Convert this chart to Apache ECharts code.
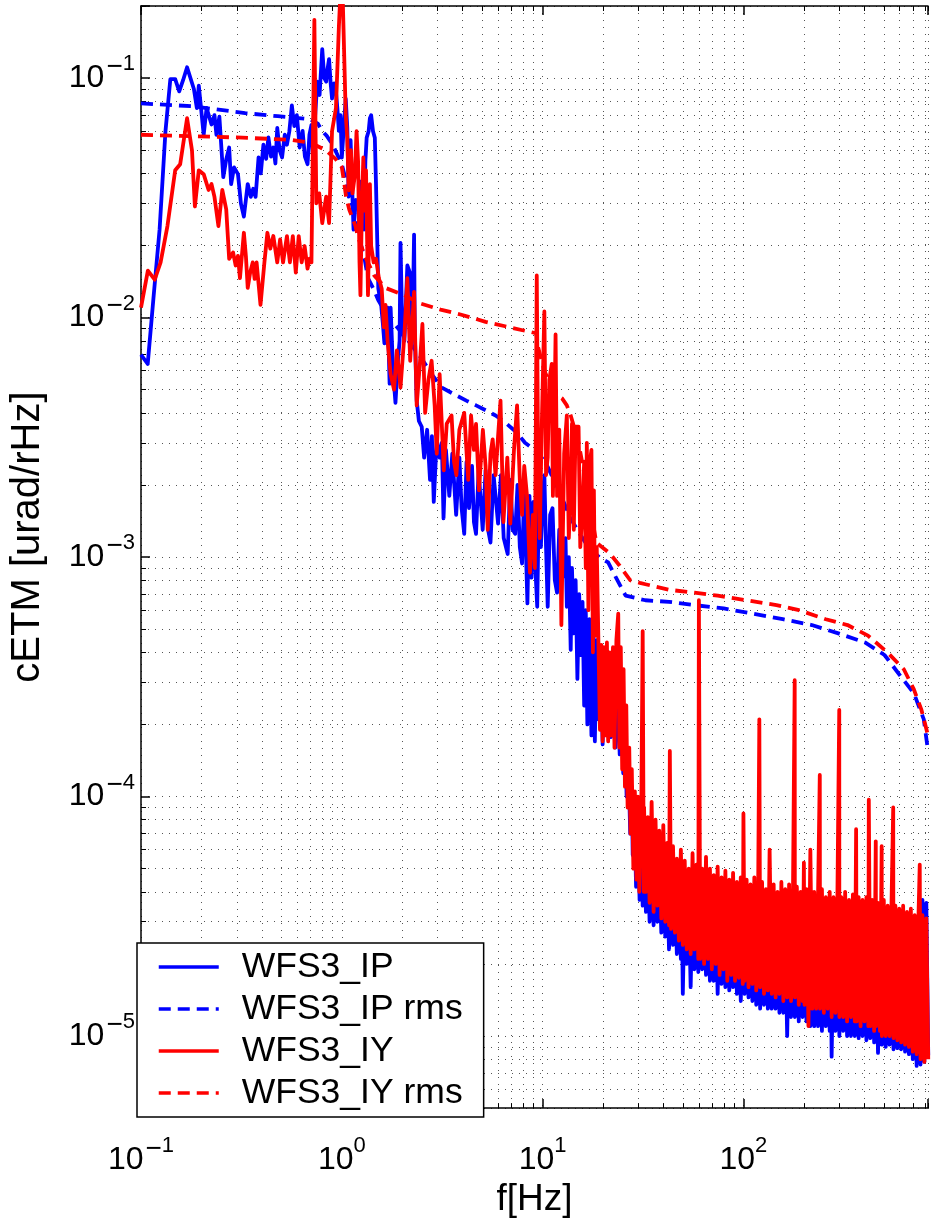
<!DOCTYPE html>
<html>
<head>
<meta charset="utf-8">
<script src="https://cdn.jsdelivr.net/npm/echarts@6/dist/echarts.min.js"></script>
<style>
html,body{margin:0;padding:0;background:#fff;}
#chart{width:931px;height:1223px;}
</style>
</head>
<body>
<div id="chart"></div>
<script>
// ---------------- data (frequency [Hz], amplitude [urad/rHz]) ----------------
const seriesNames = ['WFS3_IP', 'WFS3_IP rms', 'WFS3_IY', 'WFS3_IY rms'];
const xTickLabels = [0.1, 1, 10, 100];
const yTickLabels = [1e-5, 1e-4, 1e-3, 1e-2, 1e-1];
const xRange = [0.1, 830];
const yRange = [5e-6, 0.2];

// WFS3_IP, 0.1 - 32 Hz
const ipLow = [
[0.1,0.0070],[0.108,0.0064],[0.1157,0.0124],[0.1238,0.0234],[0.1324,0.060],[0.140,0.099],[0.148,0.099],[0.155,0.088],[0.162,0.098],[0.1696,0.111],
[0.1834,0.090],[0.1897,0.075],[0.194,0.093],[0.2052,0.058],[0.2122,0.075],[0.2245,0.064],[0.2322,0.070],[0.2375,0.058],[0.2456,0.069],[0.2569,0.0386],
[0.266,0.046],[0.2748,0.0513],[0.2811,0.0361],[0.2907,0.0424],[0.304,0.0397],[0.3145,0.0299],[0.3253,0.0264],[0.340,0.0361],[0.352,0.0319],[0.362,0.0345],
[0.372,0.0319],[0.385,0.0466],[0.395,0.040],[0.407,0.0527],[0.42,0.046],[0.431,0.0565],[0.444,0.047],[0.456,0.0513],[0.467,0.044],[0.477,0.0619],
[0.49,0.050],[0.504,0.0466],[0.52,0.058],[0.533,0.0527],[0.548,0.060],[0.564,0.0769],[0.58,0.063],[0.597,0.070],[0.617,0.0513],[0.638,0.0602],
[0.655,0.047],[0.675,0.0437],[0.690,0.058],[0.706,0.0637],[0.72,0.045],[0.737,0.070],[0.755,0.0966],[0.775,0.085],[0.799,0.132],[0.818,0.100],
[0.836,0.0966],[0.850,0.110],[0.864,0.120],[0.880,0.095],[0.894,0.0822],[0.915,0.095],[0.935,0.0878],[0.950,0.075],[0.967,0.0602],[0.985,0.070],
[1.0,0.0466],[1.02,0.060],[1.046,0.082],[1.065,0.062],[1.082,0.032],[1.106,0.055],[1.144,0.0233],[1.175,0.031],[1.205,0.029],[1.25,0.037],
[1.29,0.0233],[1.31,0.045],[1.33,0.0564],[1.36,0.060],[1.38,0.068],[1.40,0.070],[1.43,0.060],[1.46,0.0564],[1.48,0.036],[1.52,0.0132],
[1.57,0.0113],[1.60,0.0095],[1.63,0.0078],[1.66,0.0105],[1.69,0.011],[1.73,0.0053],[1.75,0.011],[1.80,0.006],[1.85,0.0044],[1.90,0.0065],
[1.94,0.008],[1.96,0.0205],[2.0,0.009],[2.05,0.008],[2.12,0.0165],[2.19,0.0153],[2.25,0.009],[2.29,0.0222],[2.31,0.0085],[2.36,0.0045],
[2.42,0.0037],[2.5,0.0035],[2.57,0.0026],[2.66,0.0034],[2.75,0.0021],[2.81,0.0032],[2.87,0.0017],[2.97,0.0031],[3.07,0.0026],[3.15,0.0030],
[3.21,0.00145],[3.3,0.0028],[3.43,0.0018],[3.55,0.0027],[3.71,0.0015],[3.85,0.0026],[3.95,0.0016],[4.07,0.00125],[4.18,0.0025],[4.30,0.0016],
[4.45,0.0024],[4.55,0.0014],[4.66,0.00125],[4.8,0.0023],[5.03,0.0013],[5.2,0.0023],[5.35,0.0013],[5.5,0.00115],[5.7,0.0022],[6.0,0.00138],
[6.2,0.0022],[6.4,0.0012],[6.7,0.00103],[6.9,0.0021],[7.1,0.0013],[7.3,0.00125],[7.5,0.002],[7.7,0.0011],[7.9,0.00094],[8.1,0.0019],
[8.4,0.00064],[8.6,0.0018],[8.8,0.00082],[9.0,0.0017],[9.2,0.0009],[9.4,0.00062],[9.6,0.0019],[9.8,0.0011],[10.0,0.0017],[10.2,0.0022],
[10.4,0.0011],[10.6,0.00062],[10.9,0.0015],[11.2,0.0016],[11.5,0.0008],[11.8,0.00071],[12.1,0.0013],[12.4,0.0008],[12.8,0.00086],[13.0,0.0012],
[13.2,0.00062],[13.5,0.001],[13.8,0.00041],[14.0,0.0009],[14.3,0.00048],[14.6,0.0008],[14.9,0.00031],[15.2,0.0007],[15.5,0.00039],[15.8,0.00065],
[16.1,0.00024],[16.4,0.0006],[16.7,0.0002],[17.1,0.00055],[17.5,0.00018],[17.9,0.0005],[18.2,0.00017],[18.6,0.00045],[19.0,0.00021],[19.4,0.0004],
[19.9,0.000165],[20.4,0.00038],[20.9,0.00018],[21.4,0.00035],[21.9,0.000177],[22.4,0.00032],[23.0,0.00016],[23.6,0.0003],[24.2,0.00015],[24.8,0.00025],
[25.2,0.000125],[25.7,0.0002],[26.2,0.0001],[26.7,0.00015],[27.3,0.00007],[27.8,0.00011],[28.1,0.000057],[28.6,0.00009],[29.2,0.000042],[29.8,0.00007],
[30.4,0.000037],[31.0,0.00006],[31.5,0.000035]
];

// WFS3_IP, 32 - 830 Hz
const ipBand = [
[32,6.0e-5],[32.7,3.3e-5],[33.4,5.5e-5],[34.1,3.0e-5],[34.9,5.8e-5],[35.7,2.9e-5],[36.5,5.2e-5],[37.3,3.0e-5],[38.1,4.8e-5],[39,2.7e-5],
[39.9,5.0e-5],[40.8,2.6e-5],[41.7,4.5e-5],[42.6,2.3e-5],[43.6,4.4e-5],[44.6,2.4e-5],[45.6,4.2e-5],[46.6,2.2e-5],[47.7,4.0e-5],[48.8,2.1e-5],
[49.3,3.6e-5],[49.9,1.5e-5],[51,3.8e-5],[52.2,2.0e-5],[53.4,3.6e-5],[54.6,1.6e-5],[55.8,3.8e-5],[57,1.9e-5],[58.3,3.5e-5],[59.6,1.85e-5],
[60.9,3.6e-5],[62.3,1.9e-5],[63.7,3.4e-5],[65.1,1.8e-5],[66.6,3.5e-5],[68.1,1.7e-5],[69.6,3.3e-5],[71.2,1.7e-5],[72.8,3.4e-5],[74.4,1.5e-5],
[76.1,3.2e-5],[77.8,1.65e-5],[79.5,3.3e-5],[81.3,1.6e-5],[83.1,3.1e-5],[85,1.55e-5],[86.9,3.2e-5],[88.8,1.6e-5],[90.8,3.0e-5],[92.8,1.5e-5],
[94.9,3.1e-5],[97,1.4e-5],[99.2,3.0e-5],[101.4,1.5e-5],[103.7,3.0e-5],[106,1.45e-5],[108.4,2.9e-5],[110.8,1.4e-5],[113.3,3.0e-5],[115.8,1.35e-5],
[118.4,2.9e-5],[121.1,1.3e-5],[123.8,2.9e-5],[126.6,1.35e-5],[129.4,2.8e-5],[132.3,1.3e-5],[135.3,2.8e-5],[138.3,1.3e-5],[141.4,2.8e-5],[144.6,1.3e-5],
[147.8,2.8e-5],[151.1,1.25e-5],[154.5,2.7e-5],[158,1.25e-5],[161.5,2.7e-5],[165.1,1.0e-5],[168.8,2.7e-5],[172.6,1.2e-5],[176.5,2.6e-5],[180.4,1.2e-5],
[184.5,2.7e-5],[188.6,1.15e-5],[192.8,2.6e-5],[197.1,1.2e-5],[201.5,2.6e-5],[206,1.15e-5],[210.7,2.5e-5],[215.4,1.1e-5],[220.2,2.6e-5],[225.1,1.1e-5],
[230.2,2.5e-5],[235.3,1.1e-5],[240.6,2.5e-5],[246,1.05e-5],[251.5,2.5e-5],[257.2,1.1e-5],[263,2.4e-5],[268.9,1.05e-5],[271.9,2.4e-5],[274.9,8.2e-6],
[281,2.4e-5],[287.3,1.05e-5],[293.8,2.4e-5],[300.4,1.0e-5],[307.1,2.4e-5],[314,1.05e-5],[321,2.3e-5],[328.2,1.0e-5],[335.6,2.4e-5],[343.1,1.0e-5],
[350.8,2.3e-5],[358.6,1.0e-5],[366.6,2.3e-5],[374.8,9.8e-6],[383.2,2.3e-5],[391.8,1.0e-5],[400.6,2.3e-5],[409.6,9.6e-6],[418.8,2.2e-5],[428.2,9.8e-6],
[437.8,2.3e-5],[447.6,9.4e-6],[457.6,2.2e-5],[467.9,8.5e-6],[478.4,2.2e-5],[489.1,9.2e-6],[500,2.2e-5],[511.2,9.0e-6],[522.7,2.1e-5],[534.4,9.2e-6],
[546.4,2.1e-5],[558.6,8.8e-6],[571.1,2.1e-5],[583.9,8.9e-6],[597,2.1e-5],[610.4,8.8e-6],[624.1,2.0e-5],[638.1,8.6e-6],[652.4,2.1e-5],[667,8.4e-6],
[681.9,2.0e-5],[697.2,8.0e-6],[712.8,2.0e-5],[728.8,7.5e-6],[745.1,2.0e-5],[761.8,7.6e-6],[778.9,3.7e-5],[796.3,7.8e-6],[814.2,3.6e-5],[832.4,8.3e-6]
];

// WFS3_IP rms
const ipRms = [
[0.1,0.0784],[0.18,0.0763],[0.33,0.0714],[0.48,0.0693],[0.69,0.0674],[0.76,0.0645],[0.8,0.060],[0.84,0.0575],[0.9,0.0527],[1.0,0.0437],
[1.06,0.036],[1.12,0.030],[1.2,0.024],[1.25,0.0199],[1.3,0.0175],[1.35,0.0146],[1.45,0.013],[1.52,0.0118],[1.6,0.011],[1.79,0.0096],
[2.12,0.0081],[2.51,0.0067],[2.8,0.0058],[3.15,0.0051],[3.6,0.0048],[4.17,0.0045],[4.66,0.0043],[5.21,0.0041],[5.83,0.0039],[6.53,0.00364],
[7.46,0.0033],[8.17,0.0030],[9.14,0.0028],[9.9,0.0026],[10.6,0.00238],[11.8,0.00197],[13.8,0.00145],[15.3,0.00125],[16.9,0.0011],[19.4,0.00099],
[21.2,0.00095],[23.2,0.00082],[25.9,0.00069],[32.5,0.00066],[42.6,0.00065],[57,0.00063],[79.8,0.00061],[112,0.00058],[157,0.00055],[219,0.00052],
[297,0.00048],[403,0.00044],[504,0.00039],[603,0.00032],[706,0.00027],[791,0.00021],[830,0.000155]
];

// WFS3_IY, 0.1 - 32 Hz
const iyLow = [
[0.1,0.011],[0.1082,0.0157],[0.117,0.0144],[0.1252,0.017],[0.1354,0.0241],[0.148,0.0412],[0.1567,0.0437],[0.1696,0.068],[0.1794,0.050],[0.1855,0.0291],
[0.194,0.0412],[0.2052,0.0397],[0.2171,0.0341],[0.2245,0.0361],[0.2322,0.0319],[0.243,0.0241],[0.254,0.0341],[0.2657,0.0283],[0.2748,0.0176],[0.2874,0.0187],
[0.296,0.0165],[0.304,0.0181],[0.311,0.0146],[0.3253,0.0226],[0.333,0.018],[0.340,0.0133],[0.350,0.0155],[0.360,0.017],[0.368,0.0145],[0.3764,0.017],
[0.3936,0.0113],[0.4117,0.017],[0.426,0.0226],[0.4405,0.0194],[0.456,0.0219],[0.477,0.017],[0.4929,0.0212],[0.5099,0.017],[0.533,0.0219],[0.5514,0.017],
[0.5703,0.0219],[0.590,0.0154],[0.610,0.0219],[0.631,0.017],[0.6527,0.0199],[0.675,0.016],[0.690,0.0176],[0.706,0.017],[0.730,0.175],[0.7467,0.030],
[0.772,0.033],[0.799,0.0248],[0.836,0.032],[0.864,0.0248],[0.894,0.060],[0.935,0.075],[0.967,0.164],[1.0,0.30],[1.02,0.16],[1.046,0.070],
[1.065,0.056],[1.082,0.034],[1.11,0.050],[1.13,0.033],[1.16,0.039],[1.184,0.060],[1.205,0.045],[1.225,0.017],[1.238,0.0124],[1.26,0.030],
[1.28,0.0466],[1.30,0.028],[1.32,0.0412],[1.35,0.0124],[1.38,0.0361],[1.40,0.0199],[1.44,0.017],[1.48,0.0176],[1.53,0.0146],[1.58,0.0132],
[1.62,0.0091],[1.65,0.0113],[1.69,0.008],[1.75,0.0058],[1.82,0.005],[1.88,0.0073],[1.96,0.0051],[2.05,0.0085],[2.12,0.0146],[2.19,0.0066],
[2.29,0.0128],[2.36,0.0043],[2.45,0.0065],[2.52,0.0094],[2.60,0.004],[2.70,0.0055],[2.80,0.0066],[2.90,0.0043],[2.97,0.0027],[3.07,0.0058],
[3.22,0.0023],[3.33,0.0036],[3.52,0.0039],[3.62,0.0025],[3.72,0.0022],[3.85,0.0034],[4.07,0.004],[4.26,0.0021],[4.40,0.0039],[4.55,0.0028],
[4.66,0.0036],[4.82,0.0019],[5.04,0.0034],[5.2,0.0024],[5.33,0.0013],[5.5,0.0027],[5.64,0.0031],[5.83,0.0022],[6.0,0.0032],[6.17,0.0045],
[6.38,0.0014],[6.67,0.0026],[6.90,0.00138],[7.2,0.0028],[7.46,0.0043],[7.7,0.0021],[7.90,0.0015],[8.1,0.0024],[8.36,0.0018],[8.65,0.00086],
[8.94,0.0015],[9.15,0.0009],[9.35,0.015],[9.5,0.0025],[9.67,0.0012],[9.9,0.0035],[10.2,0.0106],[10.4,0.0022],[10.6,0.0026],[10.8,0.0055],
[11.1,0.0064],[11.25,0.0018],[11.4,0.003],[11.6,0.0085],[11.8,0.0018],[12.1,0.0034],[12.4,0.00052],[12.8,0.0027],[13.2,0.0039],[13.5,0.0012],
[13.8,0.0019],[14.0,0.0036],[14.3,0.0013],[14.6,0.0035],[15.1,0.0035],[15.4,0.0011],[15.7,0.00145],[16.1,0.0025],[16.4,0.0009],[16.6,0.003],
[16.9,0.0006],[17.2,0.0025],[17.5,0.0028],[17.8,0.0004],[18.0,0.0019],[18.3,0.00047],[18.6,0.0011],[19.0,0.0011],[19.3,0.00019],[19.6,0.00043],
[19.9,0.00017],[20.2,0.00042],[20.5,0.00018],[20.9,0.00044],[21.2,0.00017],[21.6,0.0004],[22.0,0.00018],[22.4,0.00042],[22.8,0.00016],[23.3,0.00045],
[23.8,0.00058],[24.1,0.00016],[24.5,0.00042],[24.9,0.00013],[25.3,0.00034],[25.7,0.00011],[26.1,0.00024],[26.5,0.00009],[27.0,0.00016],[27.4,0.00007],
[27.8,0.00013],[28.3,0.00005],[28.8,0.000105],[29.3,0.000045],[29.8,0.0001],[30.3,0.00004],[31.0,0.00009],[31.5,0.00049],[31.9,0.00004]
];

// WFS3_IY, 32 - 830 Hz
const iyBand = [
[32,9.0e-5],[32.7,4.0e-5],[33.4,8.2e-5],[34.1,3.6e-5],[34.9,9.5e-5],[35.7,3.3e-5],[36.5,8.0e-5],[37.3,3.5e-5],[38.1,7.2e-5],[39,3.1e-5],
[39.9,7.6e-5],[40.8,3.0e-5],[41.7,6.4e-5],[42.6,2.9e-5],[43,1.55e-4],[43.6,2.8e-5],[44.6,6.2e-5],[45.6,2.7e-5],[46.6,5.5e-5],[47.7,2.5e-5],
[48.8,6.0e-5],[49.9,2.4e-5],[51,5.4e-5],[52.2,2.3e-5],[53.4,5.0e-5],[54.6,2.2e-5],[55.8,5.8e-5],[57,2.3e-5],[58.3,5.2e-5],[59.6,2.1e-5],
[60,6.6e-4],[60.9,2.1e-5],[62.3,5.0e-5],[63.7,2.0e-5],[65.1,5.6e-5],[66.6,2.1e-5],[68.1,5.0e-5],[69.6,1.9e-5],[71.2,4.7e-5],[72.8,2.0e-5],
[74.4,5.1e-5],[76.1,1.8e-5],[77.8,4.6e-5],[79.5,1.9e-5],[81.3,4.9e-5],[83.1,1.7e-5],[85,4.5e-5],[86.9,1.8e-5],[88.8,4.8e-5],[90.8,1.7e-5],
[92.8,4.4e-5],[94.9,1.75e-5],[97,4.6e-5],[99.2,1.65e-5],[100,8.5e-5],[101.4,1.7e-5],[103.7,4.5e-5],[106,1.6e-5],[108.4,4.3e-5],[110.8,1.65e-5],
[113.3,4.6e-5],[115.8,1.55e-5],[118.4,4.2e-5],[120,2.1e-4],[121.1,1.6e-5],[123.8,4.4e-5],[126.6,1.5e-5],[129.4,4.1e-5],[132.3,1.55e-5],[135,6.0e-5],
[138.3,1.5e-5],[141.4,4.3e-5],[144.6,1.45e-5],[147.8,4.0e-5],[151.1,1.5e-5],[154.5,4.4e-5],[158,1.4e-5],[161.5,4.1e-5],[165.1,1.45e-5],[168.8,4.3e-5],
[172.6,1.4e-5],[176.5,4.0e-5],[180,3.06e-4],[180.4,1.45e-5],[184.5,4.2e-5],[188.6,1.35e-5],[192.8,4.0e-5],[197.1,1.4e-5],[200,5.3e-5],[201.5,1.35e-5],
[206,4.1e-5],[210.7,1.1e-5],[215.4,6.0e-5],[220.2,1.3e-5],[225.1,4.0e-5],[230.2,1.3e-5],[235.3,3.9e-5],[240,1.23e-4],[240.6,1.3e-5],[246,4.1e-5],
[251.5,1.25e-5],[257.2,3.8e-5],[263,1.3e-5],[268.9,4.0e-5],[274.9,1.2e-5],[281,3.8e-5],[287.3,1.25e-5],[293.8,3.9e-5],[300,2.3e-4],[300.4,1.2e-5],
[307.1,3.8e-5],[314,1.2e-5],[321,4.0e-5],[328.2,1.15e-5],[335.6,3.7e-5],[343.1,1.2e-5],[350.8,3.9e-5],[358.6,1.15e-5],[364,7.3e-5],[366.6,1.15e-5],
[374.8,3.8e-5],[383.2,1.1e-5],[391.8,3.7e-5],[400.6,1.15e-5],[409.6,3.8e-5],[418.8,1.1e-5],[421,9.7e-5],[428.2,1.1e-5],[437.8,3.7e-5],[447.6,1.05e-5],
[456,6.5e-5],[457.6,1.1e-5],[467.9,3.6e-5],[478.4,1.05e-5],[488,6.2e-5],[489.1,1.0e-5],[500,3.7e-5],[511.2,1.0e-5],[522.7,3.5e-5],[534.4,1.0e-5],
[546.4,3.6e-5],[557,9.0e-5],[558.6,9.8e-6],[571.1,3.5e-5],[583.9,9.6e-6],[597,3.4e-5],[610.4,9.4e-6],[624.1,3.5e-5],[638.1,9.2e-6],[652.4,3.3e-5],
[667,9.0e-6],[681.9,3.4e-5],[697.2,8.6e-6],[712.8,3.2e-5],[728.8,8.4e-6],[745.1,3.3e-5],[755,5.2e-5],[761.8,8.0e-6],[778.9,3.2e-5],[796.3,7.8e-6],
[814.2,3.1e-5],[832.4,8.0e-6]
];

// WFS3_IY rms
const iyRms = [
[0.1,0.058],[0.3,0.0565],[0.55,0.0553],[0.7,0.0537],[0.83,0.050],[0.93,0.046],[1.0,0.0424],[1.03,0.036],[1.05,0.032],[1.09,0.0282],
[1.17,0.0241],[1.2,0.0219],[1.3,0.0181],[1.45,0.015],[1.65,0.0133],[2.05,0.0124],[2.42,0.0115],[3.1,0.0108],[3.9,0.0103],[4.6,0.0099],
[5.2,0.0096],[6.5,0.0092],[8.2,0.0088],[9.3,0.0086],[9.5,0.0075],[10.2,0.006],[11,0.0052],[12.0,0.0047],[12.5,0.0046],[13.2,0.0043],
[13.8,0.0039],[15.1,0.0030],[16.9,0.0018],[18.5,0.00115],[21.5,0.00104],[24.2,0.00092],[27.3,0.0008],[30.5,0.00078],[32.5,0.00077],[42.6,0.00073],
[57,0.00071],[74.5,0.00069],[104,0.00066],[146,0.00063],[189,0.0006],[257,0.00055],[330,0.00052],[417,0.00047],[521,0.0004],[629,0.00034],
[706,0.00028],[770,0.00023],[830,0.00018]
];

// ---------------- chart ----------------
const FONT = '"Liberation Sans", Arial, Helvetica, sans-serif';
const gridLine = { color: '#555', width: 1, type: [1, 6] };
const axisBlack = { color: '#000', width: 1.5 };

function isTick(v, list) {
  return list.some(t => Math.abs(Math.log10(v) - Math.log10(t)) < 1e-6);
}
function expLabel(v, list) {
  if (!isTick(v, list)) return '';
  const e = Math.round(Math.log10(v));
  return '{b|10}' + (e < 0 ? '{m|\u2212}' : '') + '{s|' + Math.abs(e) + '}';
}
const rich = {
  b: { fontSize: 32, fontFamily: FONT, color: '#000', lineHeight: 50, verticalAlign: 'middle' },
  m: { fontSize: 28, fontFamily: FONT, color: '#000', lineHeight: 18, verticalAlign: 'top', padding: [0, 0, 0, 2] },
  s: { fontSize: 22, fontFamily: FONT, color: '#000', lineHeight: 18, verticalAlign: 'top' }
};

const xAxes = [
  {
    type: 'log', logBase: 10, min: xRange[0], max: xRange[1], position: 'bottom',
    name: 'f[Hz]', nameLocation: 'middle', nameGap: 70,
    nameTextStyle: { fontSize: 37, fontFamily: FONT, color: '#000' },
    axisLine: { show: true, lineStyle: axisBlack },
    axisTick: { show: true, inside: true, length: 9, lineStyle: axisBlack },
    axisLabel: { show: true, margin: 27, formatter: v => expLabel(v, xTickLabels), rich: rich },
    splitLine: { show: true, lineStyle: gridLine }
  },
  {
    type: 'log', logBase: 10, min: xRange[0], max: xRange[1], position: 'top',
    axisLine: { show: true, lineStyle: axisBlack },
    axisTick: { show: true, inside: true, length: 9, lineStyle: axisBlack },
    axisLabel: { show: false }, splitLine: { show: false }
  }
];
const yAxes = [
  {
    type: 'log', logBase: 10, min: yRange[0], max: yRange[1], position: 'left',
    name: 'cETM [urad/rHz]', nameLocation: 'middle', nameGap: 93, nameRotate: 90,
    nameTextStyle: { fontSize: 40, fontFamily: FONT, color: '#000', padding: [0, 0, 0, 40] },
    axisLine: { show: true, lineStyle: axisBlack },
    axisTick: { show: true, inside: true, length: 9, lineStyle: axisBlack },
    axisLabel: { show: true, margin: 6, formatter: v => expLabel(v, yTickLabels), rich: rich },
    splitLine: { show: true, lineStyle: gridLine }
  }
];
// minor grid lines / minor ticks at 2..9 x 10^n, drawn by helper log axes
for (let k = 2; k <= 9; k++) {
  ['bottom', 'top'].forEach(pos => {
    xAxes.push({
      type: 'log', logBase: 10, min: xRange[0] / k, max: xRange[1] / k, position: pos,
      axisLine: { show: false },
      axisTick: { show: true, inside: true, length: 5, lineStyle: { color: '#000', width: 1 } },
      axisLabel: { show: false },
      splitLine: { show: pos === 'bottom', lineStyle: gridLine }
    });
  });
  yAxes.push({
    type: 'log', logBase: 10, min: yRange[0] / k, max: yRange[1] / k, position: 'left',
    axisLine: { show: false },
    axisTick: { show: true, inside: true, length: 5, lineStyle: { color: '#000', width: 1 } },
    axisLabel: { show: false },
    splitLine: { show: true, lineStyle: gridLine }
  });
}

function lineSeries(name, data, color, dashed) {
  return {
    name: name, type: 'line', data: data, symbol: 'none', showSymbol: false,
    xAxisIndex: 0, yAxisIndex: 0, clip: true, animation: false, silent: true,
    lineStyle: { color: color, width: 3.8, type: dashed ? [12, 7] : 'solid', join: 'round', cap: 'butt' },
    itemStyle: { color: color }
  };
}

const chart = echarts.init(document.getElementById('chart'), null, { renderer: 'canvas' });
chart.setOption({
  animation: false,
  backgroundColor: '#fff',
  grid: { left: 128, right: 0, top: 6, bottom: 96 },
  xAxis: xAxes,
  yAxis: yAxes,
  legend: {
    data: seriesNames,
    orient: 'vertical', left: 137, top: 943,
    backgroundColor: '#fff', borderColor: '#000', borderWidth: 1.5, borderRadius: 0,
    padding: [6, 21, 6, 20],
    itemWidth: 60, itemHeight: 14, itemGap: 6,
    itemStyle: { opacity: 0, borderWidth: 0 },
    lineStyle: { width: 3.5 },
    textStyle: { fontSize: 35.5, fontFamily: FONT, color: '#000', lineHeight: 36, padding: [0, 0, 0, 18] },
    selectedMode: false
  },
  series: [
    lineSeries(seriesNames[0], ipLow.concat(ipBand), '#0000ff', false),
    lineSeries(seriesNames[1], ipRms, '#0000ff', true),
    lineSeries(seriesNames[2], iyLow.concat(iyBand), '#ff0000', false),
    lineSeries(seriesNames[3], iyRms, '#ff0000', true)
  ]
});
</script>
</body>
</html>
